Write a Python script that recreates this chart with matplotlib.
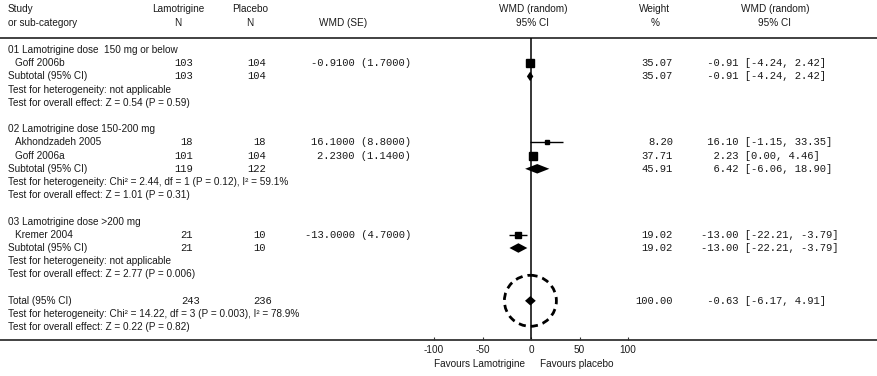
import matplotlib
matplotlib.use("Agg")
import matplotlib.pyplot as plt
import matplotlib.transforms as mtransforms
from matplotlib.patches import Ellipse
import numpy as np

# study level data
study_names = ["Goff 2006b", "Akhondzadeh 2005", "Goff 2006a", "Kremer 2004"]
study_rows = [1, 7, 8, 14]
study_lam_n = [103, 18, 101, 21]
study_pla_n = [104, 18, 104, 10]
study_wmd = [-0.91, 16.10, 2.23, -13.00]
study_se = [1.70, 8.80, 1.14, 4.70]
study_lo = [-4.24, -1.15, 0.00, -22.21]
study_hi = [2.42, 33.35, 4.46, -3.79]
study_weight = [35.07, 8.20, 37.71, 19.02]

# subgroups
group_titles = [
    "01 Lamotrigine dose  150 mg or below",
    "02 Lamotrigine dose 150-200 mg",
    "03 Lamotrigine dose >200 mg",
]
group_rows = [0, 6, 13]
sub_rows = [2, 9, 15]
sub_lam_n = [103, 119, 21]
sub_pla_n = [104, 122, 10]
sub_wmd = [-0.91, 6.42, -13.00]
sub_lo = [-4.24, -6.06, -22.21]
sub_hi = [2.42, 18.90, -3.79]
sub_weight = [35.07, 45.91, 19.02]
sub_het = [
    "Test for heterogeneity: not applicable",
    "Test for heterogeneity: Chi\u00b2 = 2.44, df = 1 (P = 0.12), I\u00b2 = 59.1%",
    "Test for heterogeneity: not applicable",
]
sub_effect = [
    "Test for overall effect: Z = 0.54 (P = 0.59)",
    "Test for overall effect: Z = 1.01 (P = 0.31)",
    "Test for overall effect: Z = 2.77 (P = 0.006)",
]

# overall
total_row = 19
total_lam_n = 243
total_pla_n = 236
total_wmd = -0.63
total_lo = -6.17
total_hi = 4.91
total_weight = 100.00
total_het = "Test for heterogeneity: Chi\u00b2 = 14.22, df = 3 (P = 0.003), I\u00b2 = 78.9%"
total_effect = "Test for overall effect: Z = 0.22 (P = 0.82)"

x_ticks = [-100, -50, 0, 50, 100]

W, H = 877, 376
PX_PER_UNIT = 0.97
ZERO_PX = 531
ROW0_PX = 50
ROW_PX = 13.2
HEADER_ROW = -0.9
AXIS_ROW = 22

SANS = "Liberation Sans"
MONO = "Liberation Mono"
FS = 7.2
MFS = 7.6
INK = "#1a1a1a"

fig = plt.figure(figsize=(W / 100, H / 100), dpi=100)
ax = fig.add_axes([0, 0, 1, 1])
ax.set_xlim(-ZERO_PX / PX_PER_UNIT, (W - ZERO_PX) / PX_PER_UNIT)
ax.set_ylim((H - ROW0_PX) / ROW_PX, -ROW0_PX / ROW_PX)

tr = mtransforms.blended_transform_factory(fig.transFigure, ax.transData)


def col(px):
    return px / W


def sans(px, row, s, ha="left"):
    ax.text(col(px), row, s, transform=tr, ha=ha, va="center",
            fontsize=FS, family=SANS, color=INK)


def mono(px, row, s, ha="right"):
    ax.text(col(px), row, s, transform=tr, ha=ha, va="center",
            fontsize=MFS, family=MONO, color=INK)


# headers
sans(8, -3.1, "Study")
sans(8, -2.05, "or sub-category")
for px, top, bottom in [(178, "Lamotrigine", "N"), (250, "Placebo", "N"),
                        (533, "WMD (random)", "95% CI"), (655, "Weight", "%"),
                        (775, "WMD (random)", "95% CI")]:
    sans(px, -3.1, top, ha="center")
    sans(px, -2.05, bottom, ha="center")
sans(343, -2.05, "WMD (SE)", ha="center")

ax.axhline(HEADER_ROW, color="#333333", lw=1.3)
ax.vlines(0, HEADER_ROW, AXIS_ROW, color="black", lw=1.1)

LAM_R, PLA_R, SE_R, WT_R, CI_L = 193, 266, 411, 673, 701


def ci_text(est, lo, hi):
    return f"{est:6.2f} [{lo:.2f}, {hi:.2f}]"


# studies
for name, r, nl, npl, m, se, lo, hi, w in zip(study_names, study_rows, study_lam_n,
                                              study_pla_n, study_wmd, study_se,
                                              study_lo, study_hi, study_weight):
    sans(15, r, name)
    mono(LAM_R, r, str(nl))
    mono(PLA_R, r, str(npl))
    mono(SE_R, r, f"{m:.4f} ({se:.4f})")
    mono(WT_R, r, f"{w:.2f}")
    mono(CI_L, r, ci_text(m, lo, hi), ha="left")
    ax.hlines(r, lo, hi, color="black", lw=1.0)
    size_px = 7.4 * np.sqrt(w / max(study_weight))
    ax.plot(m, r, marker="s", ms=size_px * 0.72, color="black", mec="black")

DIAMOND_H = 0.36


def diamond(r, est, lo, hi):
    ax.fill([lo, est, hi, est], [r, r - DIAMOND_H, r, r + DIAMOND_H],
            color="black", lw=0)


# subgroups
for title, gr, sr, nl, npl, m, lo, hi, w, het, eff in zip(
        group_titles, group_rows, sub_rows, sub_lam_n, sub_pla_n, sub_wmd,
        sub_lo, sub_hi, sub_weight, sub_het, sub_effect):
    sans(8, gr, title)
    sans(8, sr, "Subtotal (95% CI)")
    mono(LAM_R, sr, str(nl))
    mono(PLA_R, sr, str(npl))
    mono(WT_R, sr, f"{w:.2f}")
    mono(CI_L, sr, ci_text(m, lo, hi), ha="left")
    sans(8, sr + 1, het)
    sans(8, sr + 2, eff)
    diamond(sr, m, lo, hi)

# total
sans(8, total_row, "Total (95% CI)")
mono(LAM_R + 7, total_row, str(total_lam_n))
mono(PLA_R + 6, total_row, str(total_pla_n))
mono(WT_R, total_row, f"{total_weight:.2f}")
mono(CI_L, total_row, ci_text(total_wmd, total_lo, total_hi), ha="left")
sans(8, total_row + 1, total_het)
sans(8, total_row + 2, total_effect)
diamond(total_row, total_wmd, total_lo, total_hi)
ax.add_patch(Ellipse((total_wmd, total_row), 52 / PX_PER_UNIT, 51 / ROW_PX,
                     fill=False, ec="black", lw=2.0, ls=(0, (2.6, 1.8))))

# effect axis
for side in ["top", "left", "right"]:
    ax.spines[side].set_visible(False)
ax.spines["bottom"].set_position(("data", AXIS_ROW))
ax.spines["bottom"].set_color("#333333")
ax.spines["bottom"].set_linewidth(1.3)
ax.set_xticks(x_ticks)
ax.set_xticklabels([str(t) for t in x_ticks], fontsize=FS, family=SANS, color=INK)
ax.tick_params(axis="x", direction="in", length=2.5, width=0.8, pad=3, color="#333333")
ax.set_yticks([])

ax.text(-6, 23.8, "Favours Lamotrigine", ha="right", va="center",
        fontsize=FS, family=SANS, color=INK)
ax.text(9, 23.8, "Favours placebo", ha="left", va="center",
        fontsize=FS, family=SANS, color=INK)

fig.savefig("out.png", dpi=100)
